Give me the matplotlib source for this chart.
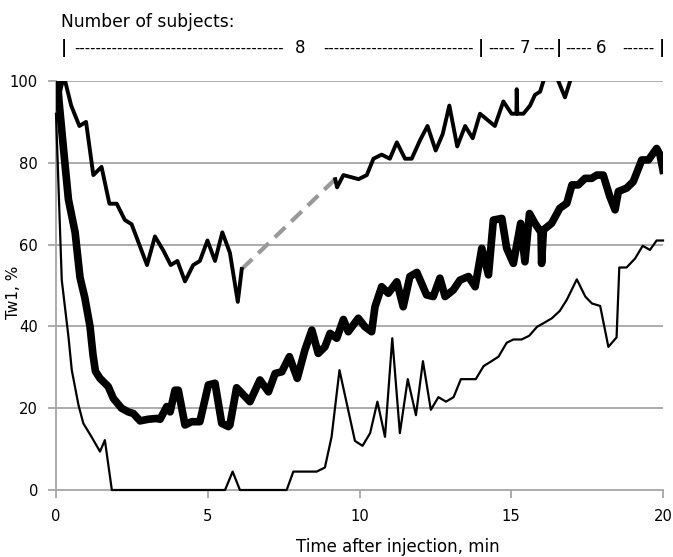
import numpy as np
import matplotlib
matplotlib.use('Agg')
import matplotlib.pyplot as plt

plt.rcParams['font.family'] = ['DejaVu Sans']

# Upper curve, before the gap (min, %)
upper_t1 = [0.12, 0.22, 0.30, 0.50, 0.77, 0.99, 1.23, 1.50, 1.76, 2.00, 2.27, 2.49, 3.00,
            3.26, 3.54, 3.78, 4.00, 4.25, 4.52, 4.74, 4.99, 5.24, 5.48, 5.73, 5.99, 6.12]
upper_v1 = [97, 100, 100, 94, 89, 90, 77, 79, 70, 70, 66, 65, 55,
            62, 58.5, 55, 56, 51, 55, 56, 61, 56, 63, 58, 46, 54]

# Upper curve, after the gap
upper_t2 = [9.20, 9.26, 9.47, 9.97, 10.24, 10.46, 10.73, 11.00, 11.23, 11.50, 11.72, 12.00,
            12.24, 12.51, 12.74, 12.96, 13.22, 13.48, 13.73, 13.97, 14.46, 14.74, 15.01,
            15.17, 15.18, 15.20, 15.40, 15.62, 15.78, 15.95, 16.06, 16.30, 16.55, 16.77,
            16.94, 17.20, 18.00, 19.00, 20.00]
upper_v2 = [76, 74, 77, 76, 77, 81, 82, 81, 85, 81, 81, 85.6,
            89, 83, 87, 94, 84, 89, 86, 92, 89, 95, 92,
            92, 98, 92, 92, 94, 96.6, 97.4, 100, 103, 100, 96,
            100, 104, 107, 110, 112]

# Thick middle curve
mid_t = [0.05, 0.10, 0.24, 0.41, 0.63, 0.79, 0.95, 1.12, 1.22, 1.30, 1.45, 1.72, 1.89, 2.16, 2.38,
         2.55, 2.77, 3.04, 3.32, 3.43, 3.65, 3.76, 3.92, 4.03, 4.25, 4.47, 4.74, 5.02, 5.24,
         5.46, 5.68, 5.73, 5.95, 6.39, 6.72, 7.00, 7.22, 7.44, 7.69, 7.95, 8.20, 8.43, 8.64,
         8.86, 9.03, 9.25, 9.47, 9.63, 9.96, 10.18, 10.40, 10.51, 10.73, 10.95, 11.23, 11.44,
         11.66, 11.89, 12.21, 12.43, 12.65, 12.82, 13.09, 13.31, 13.59, 13.81, 14.03, 14.25,
         14.41, 14.69, 14.85, 15.07, 15.31, 15.45, 15.60, 15.78, 15.98, 16.00, 16.06, 16.33,
         16.60, 16.83, 17.00, 17.21, 17.43, 17.65, 17.82, 18.03, 18.25, 18.42, 18.53, 18.80,
         19.02, 19.30, 19.52, 19.79, 19.90, 20.00]
mid_v = [100, 95, 84, 71, 63, 52, 47, 40, 33, 29, 27.3, 25.3, 22.4, 20, 19.1,
         18.7, 16.9, 17.3, 17.5, 17.3, 20.4, 19.1, 24.4, 24.4, 15.9, 16.7, 16.7, 25.7, 26.1,
         16.3, 15.5, 15.9, 25, 21.6, 26.9, 24, 28.5, 28.9, 32.6, 27.3, 34.2, 39.1, 33.4,
         35, 38.3, 37.1, 41.7, 38.7, 42, 39.9, 38.7, 44.8, 49.7, 48.1, 50.9, 44.8,
         52.2, 53.2, 47.7, 47.3, 51.8, 47.3, 48.9, 51.3, 52.2, 49.7, 59.1, 52.6,
         66, 66.4, 59.1, 55.4, 65.2, 55.8, 67.6, 65.2, 63, 55.4, 63.6, 65.2,
         68.9, 70.1, 74.6, 74.6, 76.2, 76.2, 77, 77, 71.7, 68.5, 73, 73.8,
         75.4, 80.7, 80.7, 83.5, 82, 78.2]

# Thin lower curve
low_t = [0.00, 0.19, 0.41, 0.52, 0.74, 0.90, 1.17, 1.45, 1.61, 1.84, 5.57, 5.82, 6.06, 7.60,
         7.82, 8.59, 8.86, 9.08, 9.34, 9.85, 10.10, 10.35, 10.59, 10.84, 11.08, 11.33, 11.59,
         11.86, 12.09, 12.35, 12.60, 12.85, 13.10, 13.34, 13.83, 14.09, 14.33, 14.58, 14.85,
         15.07, 15.34, 15.59, 15.85, 16.09, 16.34, 16.60, 16.83, 17.16, 17.44, 17.66, 17.93,
         18.20, 18.47, 18.56, 18.80, 19.08, 19.33, 19.57, 19.79, 20.00]
low_v = [92, 51.3, 37.5, 29.3, 20.8, 16.3, 13, 9.4, 12.2, 0, 0, 4.5, 0, 0,
         4.5, 4.5, 5.5, 13, 29.3, 12, 10.8, 13.9, 21.6, 13, 37.1, 13.9, 27.1,
         18.3, 31.5, 19.6, 22.7, 21.6, 22.7, 27.1, 27.1, 30.3, 31.4, 32.6, 36,
         36.8, 36.8, 37.7, 39.9, 40.9, 42, 43.8, 46.5, 51.5, 47.3, 45.6, 45,
         35, 37.3, 54.4, 54.4, 56.6, 59.7, 58.7, 61, 61]

x_ticks = [0, 5, 10, 15, 20]
y_ticks = [0, 20, 40, 60, 80, 100]

W, H = 673, 557
fig = plt.figure(figsize=(W / 100, H / 100), dpi=100)
ax = fig.add_axes([56 / W, 1 - 490 / H, (663 - 56) / W, (490 - 81) / H])

grey = '#a6a6a6'
for y in y_ticks[1:]:
    ax.axhline(y, color=grey, lw=1.3, zorder=0)

ax.plot(low_t, low_v, color='black', lw=1.6, clip_on=False, zorder=3)
ax.plot(mid_t, mid_v, color='black', lw=5.5, solid_joinstyle='round', zorder=3)
ax.plot(upper_t1, upper_v1, color='black', lw=2.8, zorder=3)
ax.plot(upper_t2, upper_v2, color='black', lw=2.8, zorder=3)
# dashed bridge over the gap in the upper curve
ax.plot([upper_t1[-1], upper_t2[0]], [upper_v1[-1], upper_v2[0]],
        color='#999999', lw=3, dashes=(3.5, 2), zorder=2)

ax.set_xlim(0, 20)
ax.set_ylim(0, 100)
ax.set_xticks(x_ticks)
ax.set_yticks(y_ticks)
ax.tick_params(colors=grey, labelcolor='black', labelsize=10.6, length=6, width=1.3)
ax.tick_params(axis='x', pad=8)
ax.tick_params(axis='y', pad=7)
for s in ['top', 'right']:
    ax.spines[s].set_visible(False)
for s in ['left', 'bottom']:
    ax.spines[s].set_color(grey)
    ax.spines[s].set_linewidth(1.3)


def px(x, y):
    return x / W, 1 - y / H


fig.text(*px(398, 547), 'Time after injection, min', ha='center', va='center', fontsize=12)
fig.text(*px(13, 292), 'Tw1, %', ha='center', va='center', rotation=90, fontsize=11)

# header: number of subjects
fig.text(*px(61, 22), 'Number of subjects:', ha='left', va='center', fontsize=12.3)
hy = 48
bars = [64, 481, 559, 662]
for b in bars:
    fig.text(*px(b, hy), '|', ha='center', va='center', fontsize=12, fontweight='bold')
labels = [(300, '8'), (525, '7'), (601, '6')]
for x, s in labels:
    fig.text(*px(x, hy), s, ha='center', va='center', fontsize=12)
# dash runs between the marks (start px, end px, number of dashes)
runs = [(71, 287, 39), (321, 475, 28), (488, 515, 5), (534, 553, 4), (566, 592, 5), (621, 655, 6)]
for a, b, n in runs:
    fig.text(*px((a + b) / 2, hy), '-' * n, ha='center', va='center', fontsize=10.5)

fig.savefig('out.png', dpi=100)
